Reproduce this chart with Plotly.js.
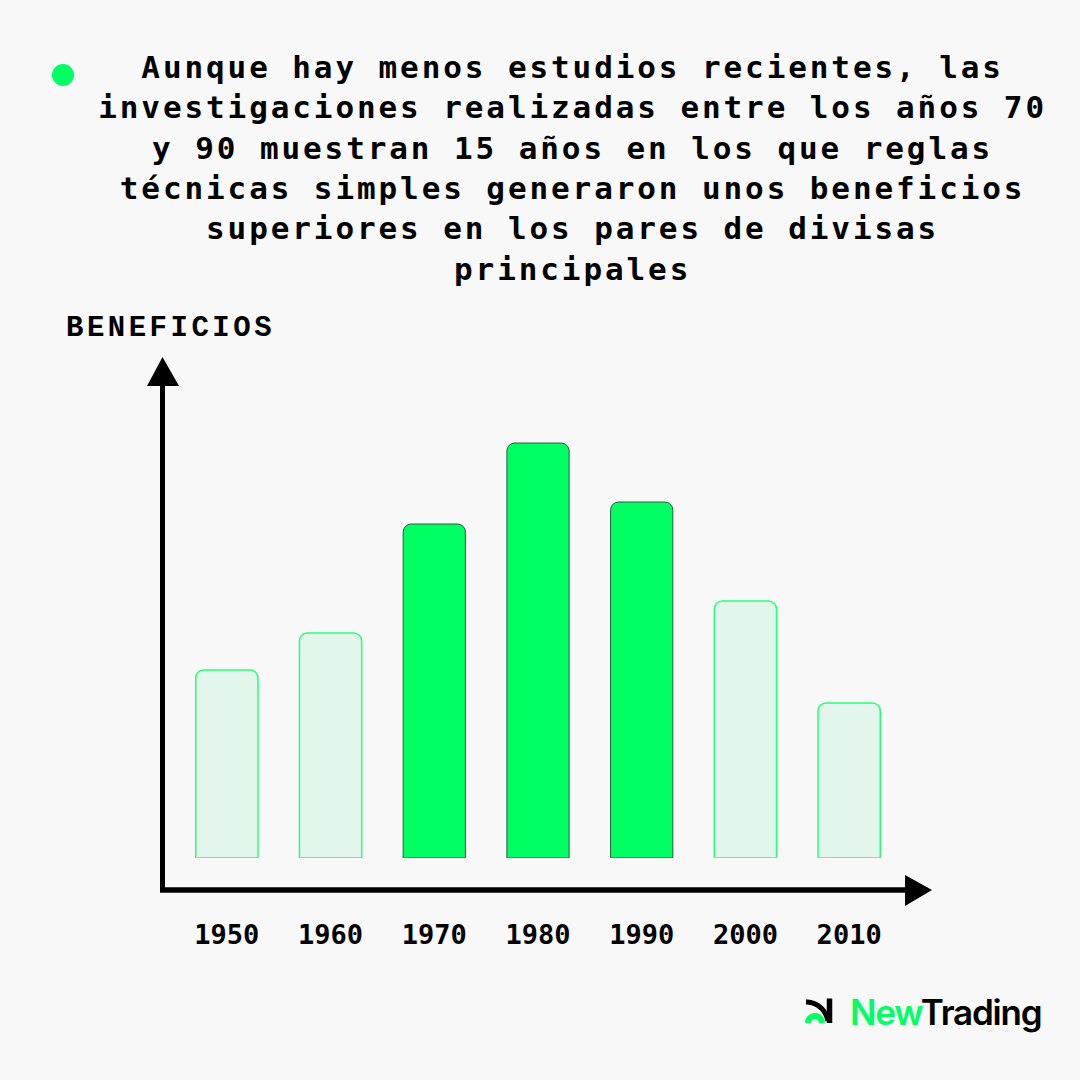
<!DOCTYPE html>
<html>
<head>
<meta charset="utf-8">
<script src="https://cdn.plot.ly/plotly-3.0.1.min.js"></script>
<style>
  html, body { margin: 0; padding: 0; background: #f8f8f8; }
  #chart { width: 1080px; height: 1080px; }
</style>
</head>
<body>
<div id="chart"></div>
<script>
// ---- data ----
const decades = ['1950', '1960', '1970', '1980', '1990', '2000', '2010'];
const beneficios = [188, 225, 334, 415, 356, 257, 155];
const highlighted = [false, false, true, true, true, false, false];
const titleLines = [
  'Aunque hay menos estudios recientes, las',
  'investigaciones realizadas entre los años 70',
  'y 90 muestran 15 años en los que reglas',
  'técnicas simples generaron unos beneficios',
  'superiores en los pares de divisas',
  'principales'
];
const yAxisLabel = 'BENEFICIOS';

// ---- layout geometry (pixels) ----
const W = 1080, H = 1080;
const plotL = 175, plotR = 901, plotT = 358, plotB = 858;
const px = x => (x - plotL) / (plotR - plotL);
const py = y => (plotB - y) / (plotB - plotT);

const fillCol = highlighted.map(h => h ? '#00ff62' : '#e2f6eb');
const lineCol = highlighted.map(h => h ? '#2f5a3e' : '#2bff75');
const lineW = highlighted.map(h => h ? 1 : 1.5);

const trace = {
  type: 'bar',
  x: decades,
  y: beneficios,
  width: 0.6,
  marker: {
    color: fillCol,
    line: { color: lineCol, width: lineW },
    cornerradius: 8
  },
  hoverinfo: 'x+y'
};

function P(pts) {
  return 'M ' + pts.map(p => px(p[0]) + ',' + py(p[1])).join(' L ') + ' Z';
}
function Pl(pts) {
  return 'M ' + pts.map(p => px(p[0]) + ',' + py(p[1])).join(' L ');
}
function arc(cx, cy, r, a0, a1, n) {
  const pts = [];
  for (let i = 0; i <= n; i++) {
    const a = a0 + (a1 - a0) * i / n;
    pts.push([cx + r * Math.cos(a), cy - r * Math.sin(a)]);
  }
  return pts;
}
const greenArch = arc(815, 1023, 7, Math.PI, 0, 20);
const blackArc = arc(806, 1024, 22, Math.PI / 2, 0.15, 20);

const shapes = [
  // y axis
  { type: 'line', xref: 'paper', yref: 'paper', x0: px(162.5), x1: px(162.5), y0: py(892), y1: py(380),
    line: { color: '#000', width: 5 } },
  { type: 'path', xref: 'paper', yref: 'paper', path: P([[162.5, 357], [147, 386], [179, 386]]),
    fillcolor: '#000', line: { width: 0 } },
  // x axis
  { type: 'line', xref: 'paper', yref: 'paper', x0: px(160), x1: px(910), y0: py(890), y1: py(890),
    line: { color: '#000', width: 5.5 } },
  { type: 'path', xref: 'paper', yref: 'paper', path: P([[932, 890], [905, 875], [905, 906]]),
    fillcolor: '#000', line: { width: 0 } },
  // green bullet
  { type: 'circle', xref: 'paper', yref: 'paper', x0: px(52), x1: px(74), y0: py(64), y1: py(86),
    fillcolor: '#00ff62', line: { width: 0 } },
  // logo icon
  { type: 'path', xref: 'paper', yref: 'paper', path: Pl(greenArch),
    line: { color: '#00ff62', width: 6 } },
  { type: 'path', xref: 'paper', yref: 'paper', path: Pl(blackArc),
    line: { color: '#000', width: 5 } },
  { type: 'path', xref: 'paper', yref: 'paper', path: Pl([[829.5, 998.5], [829.5, 1023]]),
    line: { color: '#000', width: 5.5 } }
];

const annotations = [
  { xref: 'paper', yref: 'paper', x: px(572), y: py(168), xanchor: 'center', yanchor: 'middle',
    align: 'center', showarrow: false, text: titleLines.join('<br>'),
    font: { family: 'DejaVu Sans Mono', size: 31, weight: 'bold', color: '#000' } },
  { xref: 'paper', yref: 'paper', x: px(64), y: py(328), xanchor: 'left', yanchor: 'middle',
    align: 'left', showarrow: false, text: yAxisLabel,
    font: { family: 'Liberation Mono', size: 29, weight: 'bold', color: '#000' } },
  { xref: 'paper', yref: 'paper', x: px(848), y: py(1012), xanchor: 'left', yanchor: 'middle',
    align: 'left', showarrow: false, text: '<span style="color:#00ff62">New</span>Trading',
    font: { family: 'Inter', size: 35, weight: 600, color: '#000' } }
];

const layout = {
  width: W, height: H,
  margin: { l: plotL, r: W - plotR, t: plotT, b: H - plotB, pad: 0 },
  paper_bgcolor: '#f8f8f8',
  plot_bgcolor: 'rgba(0,0,0,0)',
  showlegend: false,
  xaxis: {
    type: 'category',
    range: [-0.5, 6.5],
    showline: false, showgrid: false, zeroline: false,
    ticks: '', ticklabelstandoff: 58,
    tickfont: { family: 'DejaVu Sans Mono', size: 27, weight: 'bold', color: '#000' },
    fixedrange: true
  },
  yaxis: {
    range: [0, 500],
    showline: false, showgrid: false, zeroline: false, showticklabels: false,
    ticks: '', fixedrange: true
  },
  shapes: shapes,
  annotations: annotations
};

Plotly.newPlot('chart', [trace], layout, { displayModeBar: false, staticPlot: true }).then(() => {
  document.querySelectorAll('.annotation-text').forEach(t => {
    if (t.textContent === yAxisLabel) t.style.letterSpacing = '3.5px';
    else if (t.textContent.indexOf('Aunque') === 0) t.style.letterSpacing = '2.9px';
    else if (t.textContent.indexOf('New') === 0) t.style.letterSpacing = '-1.2px';
  });
});
</script>
</body>
</html>
